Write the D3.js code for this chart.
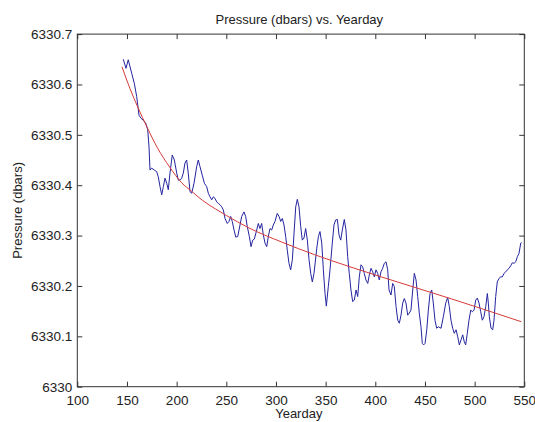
<!DOCTYPE html>
<html>
<head>
<meta charset="utf-8">
<script src="https://cdn.jsdelivr.net/npm/d3@7"></script>
<style>
  html, body { margin: 0; padding: 0; background: #fff; }
  svg { display: block; font-family: "Liberation Sans", Arial, sans-serif; }
</style>
</head>
<body>
<svg id="chart" width="535" height="422"></svg>
<script>
// measured pressure record (blue)
const yearday = [
  146.3, 149.0, 151.3, 154.8, 157.4, 159.8, 162.1, 164.1, 166.4, 168.9,
  170.9, 172.2, 173.2, 174.9, 177.5, 179.9, 181.5, 183.3, 185.0, 186.6,
  188.3, 190.0, 191.6, 193.3, 195.6, 197.7, 200.1, 201.7, 203.4, 205.1,
  206.7, 208.4, 210.1, 211.7, 213.5, 215.2, 217.5, 220.2, 221.8, 223.5,
  225.8, 227.9, 230.3, 231.9, 233.6, 235.3, 236.9, 238.6, 240.3, 242.0,
  243.7, 245.4, 247.0, 248.7, 251.0, 252.7, 254.4, 256.0, 257.8, 259.5,
  261.5, 263.8, 265.5, 267.8, 269.5, 271.1, 273.2, 274.9, 276.6, 278.2,
  280.6, 282.2, 283.9, 285.6, 287.3, 289.0, 290.7, 292.3, 294.0, 295.7,
  297.3, 299.0, 301.3, 303.1, 304.8, 306.4, 308.1, 309.8, 311.4, 313.1,
  314.8, 316.5, 318.2, 319.9, 321.5, 323.2, 324.9, 326.5, 328.2, 329.9,
  331.6, 333.3, 335.0, 336.6, 338.3,
  341.1, 342.7, 344.3, 346.1, 347.7, 349.4, 350.7, 352.7, 354.4, 356.7,
  358.4, 360.1, 361.8, 363.5, 365.2, 366.8, 368.8, 370.5, 372.2, 373.8,
  375.5, 377.2, 378.9, 380.6, 382.3, 383.9, 385.6, 387.3, 388.9, 390.6,
  392.4, 394.0, 395.7, 397.4, 399.0, 400.7, 402.4, 404.0, 405.7, 407.4,
  409.1, 410.8, 412.5, 413.8, 415.8, 417.5, 419.1, 420.9, 422.6, 424.2,
  425.9, 427.6, 429.2, 430.9, 432.6, 434.2, 435.9, 437.7, 439.3, 441.0,
  442.7, 444.3, 446.0, 447.3, 448.7,
  450.1, 451.8, 453.4, 455.1, 456.8, 458.4, 460.1, 461.8, 463.4, 466.2,
  468.5, 470.9, 472.9, 474.5, 476.2, 477.9, 479.5, 481.3, 483.0, 484.6,
  486.3, 488.0, 489.6, 491.0, 492.6, 494.3, 496.1, 497.7, 499.4, 501.1,
  502.7, 504.4, 506.1, 507.7, 509.4, 511.2, 512.8, 513.8, 514.8, 516.5,
  518.2, 519.5, 521.2, 522.8, 524.5, 526.3, 527.9, 529.6, 531.3, 532.9,
  534.6, 536.3, 537.9, 539.7, 541.4, 543.0, 544.7, 546.4, 547.4
];
const pressure = [
  6330.650, 6330.632, 6330.649, 6330.622, 6330.602, 6330.576, 6330.539, 6330.533, 6330.529, 6330.523,
  6330.510, 6330.476, 6330.430, 6330.434, 6330.430, 6330.427, 6330.417, 6330.397, 6330.381, 6330.397,
  6330.414, 6330.404, 6330.391, 6330.424, 6330.460, 6330.450, 6330.424, 6330.410, 6330.410, 6330.414,
  6330.424, 6330.444, 6330.450, 6330.424, 6330.387, 6330.384, 6330.404, 6330.437, 6330.450, 6330.437,
  6330.420, 6330.404, 6330.397, 6330.384, 6330.377, 6330.371, 6330.377, 6330.374, 6330.367, 6330.364,
  6330.361, 6330.357, 6330.351, 6330.334, 6330.324, 6330.328, 6330.338, 6330.328, 6330.311, 6330.297,
  6330.298, 6330.321, 6330.338, 6330.347, 6330.338, 6330.318, 6330.298, 6330.278, 6330.291, 6330.293,
  6330.311, 6330.324, 6330.314, 6330.324, 6330.301, 6330.285, 6330.278, 6330.298, 6330.314, 6330.311,
  6330.321, 6330.328, 6330.344, 6330.338, 6330.328, 6330.334, 6330.321, 6330.298, 6330.271, 6330.245,
  6330.232, 6330.252, 6330.305, 6330.357, 6330.372, 6330.357, 6330.318, 6330.291, 6330.295, 6330.314,
  6330.291, 6330.252, 6330.225, 6330.208, 6330.225,
  6330.275, 6330.298, 6330.308, 6330.285, 6330.232, 6330.185, 6330.160, 6330.199, 6330.232, 6330.285,
  6330.321, 6330.331, 6330.332, 6330.301, 6330.291, 6330.311, 6330.332, 6330.311, 6330.258, 6330.225,
  6330.192, 6330.169, 6330.172, 6330.192, 6330.179, 6330.218, 6330.242, 6330.238, 6330.225, 6330.212,
  6330.205, 6330.222, 6330.235, 6330.228, 6330.218, 6330.232, 6330.225, 6330.212, 6330.228, 6330.235,
  6330.245, 6330.248, 6330.232, 6330.192, 6330.182, 6330.205, 6330.199, 6330.159, 6330.132, 6330.126,
  6330.142, 6330.166, 6330.175, 6330.166, 6330.142, 6330.146, 6330.152, 6330.192, 6330.225, 6330.212,
  6330.179, 6330.146, 6330.119, 6330.086, 6330.083,
  6330.086, 6330.113, 6330.152, 6330.185, 6330.192, 6330.166, 6330.132, 6330.116, 6330.119, 6330.116,
  6330.139, 6330.166, 6330.177, 6330.159, 6330.132, 6330.116, 6330.106, 6330.113, 6330.099, 6330.083,
  6330.093, 6330.103, 6330.089, 6330.083, 6330.106, 6330.132, 6330.152, 6330.149, 6330.152, 6330.172,
  6330.176, 6330.166, 6330.149, 6330.132, 6330.139, 6330.159, 6330.185, 6330.166, 6330.139, 6330.116,
  6330.113, 6330.132, 6330.179, 6330.208, 6330.215, 6330.218, 6330.218, 6330.225, 6330.228, 6330.232,
  6330.235, 6330.240, 6330.246, 6330.245, 6330.248, 6330.258, 6330.265, 6330.285, 6330.286
];

// fitted curve (red), read at sample days
const fitDay = [145, 153, 160, 171, 181, 193, 205, 215, 226, 239, 250, 272, 306, 339, 373, 406, 440, 474, 507, 547];
const fitPressure = [
  6330.635, 6330.592, 6330.559, 6330.512, 6330.473, 6330.436, 6330.405, 6330.388, 6330.370, 6330.353,
  6330.340, 6330.316, 6330.287, 6330.262, 6330.239, 6330.218, 6330.197, 6330.176, 6330.155, 6330.129
];

const xTicks = [100, 150, 200, 250, 300, 350, 400, 450, 500, 550];
const yTicks = [6330, 6330.1, 6330.2, 6330.3, 6330.4, 6330.5, 6330.6, 6330.7];

(function () {
  const svg = d3.select("#chart");
  const plotLeft = 77.3, plotRight = 524.3, plotTop = 34.1, plotBottom = 386.7;
  const axisColor = "#333";

  const x = d3.scaleLinear().domain([100, 550]).range([plotLeft, plotRight]);
  const y = d3.scaleLinear().domain([6330, 6330.7]).range([plotBottom, plotTop]);

  const yFmt = (d) => d3.format(".1f")(d).replace(/\.0$/, "");

  function styleAxis(g) {
    g.select(".domain").remove();
    g.selectAll(".tick line").attr("stroke", axisColor);
    g.selectAll(".tick text")
      .attr("fill", "#222")
      .style("font-size", "13.5px")
      .style("font-family", '"Liberation Sans", Arial, sans-serif');
  }

  // ticks point inwards on all four sides
  svg.append("g")
    .attr("transform", `translate(0,${plotBottom})`)
    .call(d3.axisBottom(x).tickValues(xTicks).tickSize(-5))
    .call(styleAxis)
    .call((g) => g.selectAll(".tick text").attr("y", 18.5).attr("dy", null));

  svg.append("g")
    .attr("transform", `translate(0,${plotTop})`)
    .call(d3.axisTop(x).tickValues(xTicks).tickSize(-5).tickFormat(""))
    .call(styleAxis);

  svg.append("g")
    .attr("transform", `translate(${plotLeft},0)`)
    .call(d3.axisLeft(y).tickValues(yTicks).tickSize(-5).tickFormat(yFmt))
    .call(styleAxis)
    .call((g) => g.selectAll(".tick text").attr("x", -5));

  svg.append("g")
    .attr("transform", `translate(${plotRight},0)`)
    .call(d3.axisRight(y).tickValues(yTicks).tickSize(-5).tickFormat(""))
    .call(styleAxis);

  svg.append("rect")
    .attr("x", plotLeft)
    .attr("y", plotTop)
    .attr("width", plotRight - plotLeft)
    .attr("height", plotBottom - plotTop)
    .attr("fill", "none")
    .attr("stroke", axisColor)
    .attr("stroke-width", 1);

  const series = d3.zip(yearday, pressure);
  const fit = d3.zip(fitDay, fitPressure);

  svg.append("path")
    .datum(series)
    .attr("fill", "none")
    .attr("stroke", "#2424a0")
    .attr("stroke-width", 1)
    .attr("d", d3.line().x((d) => x(d[0])).y((d) => y(d[1])));

  svg.append("path")
    .datum(fit)
    .attr("fill", "none")
    .attr("stroke", "#d83a3a")
    .attr("stroke-width", 1)
    .attr("d", d3.line().curve(d3.curveMonotoneX).x((d) => x(d[0])).y((d) => y(d[1])));

  // labels
  const cx = (plotLeft + plotRight) / 2;
  svg.append("text")
    .attr("x", cx - 1.5)
    .attr("y", 24)
    .attr("text-anchor", "middle")
    .attr("fill", "#222")
    .style("font-size", "13px")
    .text("Pressure (dbars) vs. Yearday");

  svg.append("text")
    .attr("x", cx - 2)
    .attr("y", 417.5)
    .attr("text-anchor", "middle")
    .attr("fill", "#222")
    .style("font-size", "13px")
    .text("Yearday");

  svg.append("text")
    .attr("transform", `translate(22,${(plotTop + plotBottom) / 2}) rotate(-90)`)
    .attr("text-anchor", "middle")
    .attr("fill", "#222")
    .style("font-size", "13px")
    .text("Pressure (dbars)");
})();
</script>
</body>
</html>
